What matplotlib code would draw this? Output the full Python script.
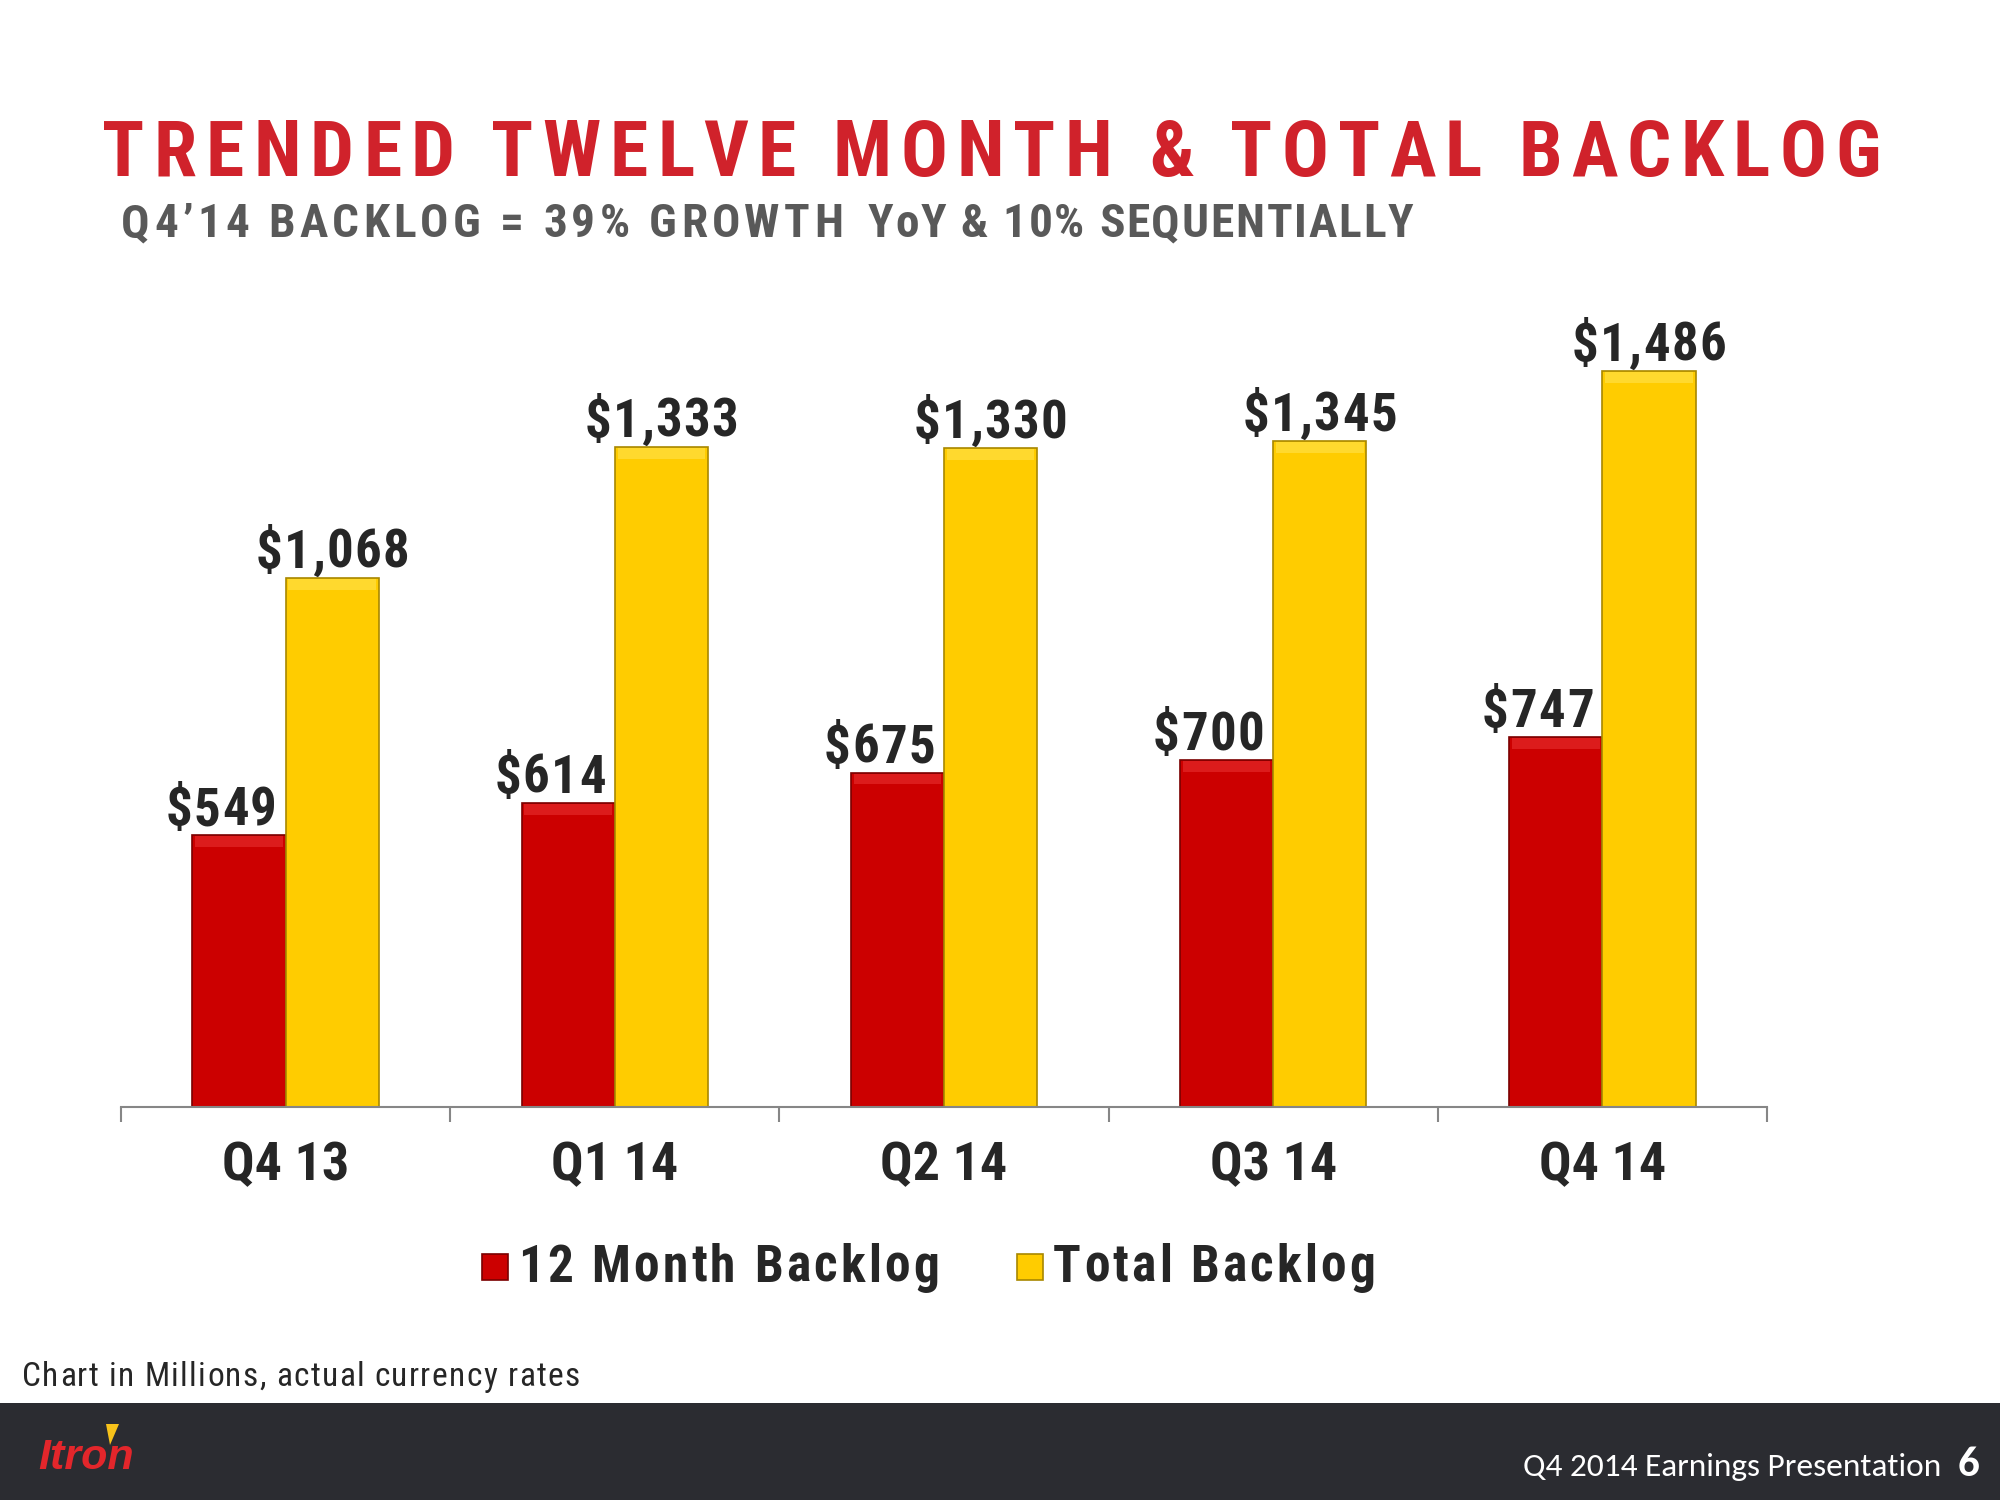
import numpy as np
import matplotlib
matplotlib.use("Agg")
import matplotlib.pyplot as plt
from matplotlib import font_manager
from matplotlib.patches import Rectangle, Polygon
from matplotlib.transforms import IdentityTransform

# Data (USD millions)
quarters = ["Q4 13", "Q1 14", "Q2 14", "Q3 14", "Q4 14"]
twelve_month = [549, 614, 675, 700, 747]
total_backlog = [1068, 1333, 1330, 1345, 1486]
series_names = ["12 Month Backlog", "Total Backlog"]

# pick a condensed family that has a real bold face
fonts = font_manager.fontManager.ttflist
installed = {f.name for f in fonts}
bold_ok = {f.name for f in fonts if f.weight in (700, "bold")}
narrow_prefs = ["Liberation Sans Narrow", "Arial Narrow", "Roboto Condensed", "Archivo Narrow",
                "IBM Plex Sans Condensed", "PT Sans Narrow", "Asap Condensed", "Fira Sans Condensed"]
NARROW = next((c for c in narrow_prefs if c in bold_ok), "Liberation Sans")
FOOT = next((c for c in ["Carlito", "Lato", "Open Sans"] if c in installed), "DejaVu Sans")

RED, RED_EDGE, RED_TOP = "#cc0000", "#7a0000", "#dc1c1c"
YEL, YEL_EDGE, YEL_TOP = "#ffcc00", "#a88700", "#ffd92e"
TXT = "#262626"
PX = IdentityTransform()

fig = plt.figure(figsize=(20, 15), dpi=100)
fig.patch.set_facecolor("white")
RENDERER = fig.canvas.get_renderer()


def measure(s, **kw):
    # width of s in pixels, trailing spaces included
    t = fig.text(0, 0, s + "I", transform=PX, **kw)
    w1 = t.get_window_extent(RENDERER).width
    t.set_text("I")
    w2 = t.get_window_extent(RENDERER).width
    t.remove()
    return w1 - w2


def spaced_text(x, y, s, track=0.0, width=None, ha="left", **kw):
    # text with letter spacing, drawn char by char in pixel coords
    natural = measure(s, **kw)
    if width is not None and len(s) > 1:
        track = (width - natural) / (len(s) - 1)
    total = natural + track * (len(s) - 1)
    x0 = x - total / 2 if ha == "center" else x
    for i, c in enumerate(s):
        if c == " ":
            continue
        xi = x0 + measure(s[:i], **kw) + i * track
        fig.text(xi, y, c, transform=PX, ha="left", va="baseline", **kw)


# chart area
ax = fig.add_axes([0.0605, 0.262, 0.823, 0.538])
x = np.arange(len(quarters))
w = 0.283
tm = np.array(twelve_month)
tb = np.array(total_backlog)
ax.bar(x - w / 2, tm, w, color=RED, edgecolor=RED_EDGE, linewidth=1.2, zorder=2)
ax.bar(x + w / 2, tb, w, color=YEL, edgecolor=YEL_EDGE, linewidth=1.2, zorder=2)
# lighter bevel along the top of each bar
bevel = 22
ax.bar(x - w / 2, bevel, w * 0.94, bottom=tm - bevel - 2, color=RED_TOP, linewidth=0, zorder=3)
ax.bar(x + w / 2, bevel, w * 0.94, bottom=tb - bevel - 2, color=YEL_TOP, linewidth=0, zorder=3)

ax.set_xlim(-0.5, len(quarters) - 0.5)
ax.set_ylim(0, 1629)
for side in ["left", "top", "right"]:
    ax.spines[side].set_visible(False)
ax.spines["bottom"].set_color("#868686")
ax.spines["bottom"].set_linewidth(1.5)
ax.set_yticks([])
ax.set_xticks(x)
ax.set_xticklabels(quarters, fontsize=39, fontweight="bold", color=TXT, family=NARROW)
ax.tick_params(axis="x", which="major", length=0, pad=24)
ax.set_xticks(np.arange(-0.5, len(quarters), 1), minor=True)
ax.tick_params(axis="x", which="minor", length=11, width=1.5, color="#868686", direction="out")

# value labels
lab = dict(size=38, weight="bold", color=TXT, family=NARROW)
for xi, a, b in zip(x, tm, tb):
    cx, ty = ax.transData.transform((xi - w / 2, a))
    spaced_text(cx - 18, ty + 10, f"${a:,}", track=1.5, ha="center", **lab)
    cx, ty = ax.transData.transform((xi + w / 2, b))
    spaced_text(cx, ty + 10, f"${b:,}", track=1.5, ha="center", **lab)

# legend (drawn by hand so the label text can be letter-spaced like the slide)
leg = dict(size=37, weight="bold", color=TXT, family=NARROW)
legend_items = [(series_names[0], RED, RED_EDGE, 482, 421),
                (series_names[1], YEL, YEL_EDGE, 1017, 322)]
for name, fc, ec, lx, tw in legend_items:
    fig.add_artist(Rectangle((lx, 220), 26, 26, transform=PX, facecolor=fc,
                             edgecolor=ec, linewidth=1.2))
    spaced_text(lx + 36, 218, name, width=tw, **leg)

# titles
spaced_text(102, 1324, "TRENDED TWELVE MONTH & TOTAL BACKLOG", width=1779,
            size=56, weight="bold", color="#d0222b", family=NARROW)
sub = dict(size=34, weight="bold", color="#595959", family=NARROW)
spaced_text(121, 1263, "Q4\u201914 BACKLOG = 39% GROWTH", width=722, **sub)
spaced_text(868, 1263, "YoY & 10% SEQUENTIALLY", width=545, **sub)

# footnote
spaced_text(22, 114, "Chart in Millions, actual currency rates", width=558,
            size=24, color=TXT, family=NARROW)

# footer band
fig.add_artist(Rectangle((0, 0), 1, 97 / 1500, transform=fig.transFigure,
                         facecolor="#2b2c31", edgecolor="none", zorder=0))
fig.text(38, 31, "Itron", transform=PX, ha="left", va="baseline", size=31,
         weight="bold", style="italic", color="#e3262b", family="Liberation Sans")
fig.add_artist(Polygon([(106, 76), (119, 76), (110, 55)], closed=True, transform=PX,
                       facecolor="#f7c21a", edgecolor="none", zorder=3))
fig.text(1941, 24, "Q4 2014 Earnings Presentation", transform=PX, ha="right",
         va="baseline", size=24, color="white", family=FOOT)
fig.text(1958, 24, "6", transform=PX, ha="left", va="baseline", size=31,
         weight="bold", color="white", family=FOOT)

fig.savefig("out.png", dpi=100, facecolor="white")
